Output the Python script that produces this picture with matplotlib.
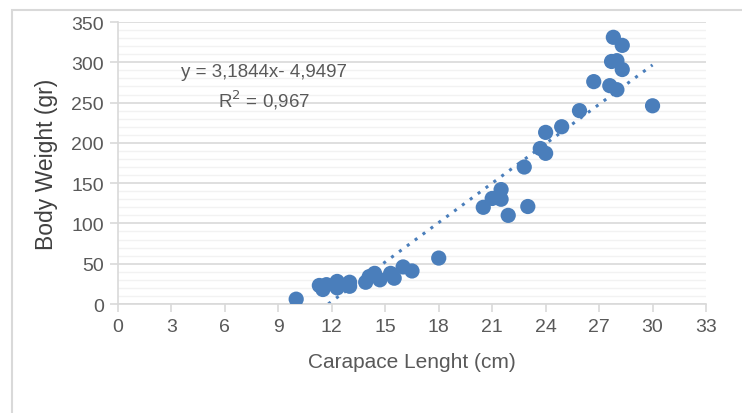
import matplotlib.pyplot as plt
from matplotlib.patches import Rectangle
from matplotlib.ticker import MultipleLocator

# ---------- DATA ----------
carapace_cm = [10.0, 11.3, 11.5, 11.7, 12.3, 12.3, 13.0, 13.0, 13.9, 14.1,
               14.4, 14.7, 15.3, 15.5, 16.0, 16.5, 18.0, 20.5, 21.0, 21.5,
               21.5, 21.9, 23.0, 22.8, 23.7, 24.0, 24.0, 24.9, 25.9, 26.7,
               27.6, 28.0, 27.7, 28.0, 28.3, 27.8, 28.3, 30.0]
weight_gr = [6, 23, 18, 24, 28, 20, 27, 22, 27, 34,
             38, 30, 38, 32, 46, 41, 57, 120, 131, 142,
             130, 110, 121, 170, 193, 187, 213, 220, 240, 276,
             271, 266, 301, 302, 291, 331, 321, 246]

# dotted trendline as drawn in the source (endpoints)
trend_x = [11.8, 30.0]
trend_slope = 16.3
trend_icpt = -192.3

eq_text = "y = 3,1844x- 4,9497"
r2_text = "R$^2$ = 0,967"

x_ticks = list(range(0, 34, 3))

# ---------- STYLE ----------
BLUE = "#4A7EBB"
GRID_MAJ = "#D9D9D9"
GRID_MIN = "#F2F2F2"
TXT = "#595959"

plt.rcParams["font.family"] = ["Liberation Sans", "DejaVu Sans"]

fig = plt.figure(figsize=(7.42, 4.14), dpi=100)
fig.patches.append(Rectangle((12 / 742, -0.1), 1.2, 1 - 11 / 414 + 0.1,
                             transform=fig.transFigure, fill=False,
                             edgecolor=GRID_MAJ, linewidth=1.5))

ax = fig.add_axes([118 / 742, 1 - 305 / 414, 588 / 742, 282 / 414])
ax.set_xlim(0, 33)
ax.set_ylim(0, 350)
ax.set_xticks(x_ticks)
ax.yaxis.set_major_locator(MultipleLocator(50))
ax.yaxis.set_minor_locator(MultipleLocator(10))

ax.grid(True, which="minor", axis="y", color=GRID_MIN, linewidth=1.0, zorder=0)
ax.grid(True, which="major", axis="y", color=GRID_MAJ, linewidth=1.2, zorder=0)
ax.set_axisbelow(True)

for side in ("top", "right"):
    ax.spines[side].set_visible(False)
for side in ("left", "bottom"):
    ax.spines[side].set_color(GRID_MAJ)
    ax.spines[side].set_linewidth(1.2)

ax.tick_params(axis="both", which="major", length=6, width=1.2, color=GRID_MAJ,
               labelcolor=TXT, labelsize=14, pad=4)
ax.tick_params(axis="y", which="minor", length=0)

ax.scatter(carapace_cm, weight_gr, s=120, color=BLUE, edgecolors="none", zorder=3)

ty = [trend_slope * v + trend_icpt for v in trend_x]
ax.plot(trend_x, ty, color=BLUE, linestyle=(0, (1, 2.2)), linewidth=2.2, zorder=2)

ax.text(8.2, 288, eq_text, ha="center", va="center", fontsize=13.5, color=TXT)
ax.text(8.2, 254, r2_text, ha="center", va="center", fontsize=13.5, color=TXT)

ax.set_xlabel("Carapace Lenght (cm)", fontsize=15, color=TXT, labelpad=12)
ax.set_ylabel("Body Weight (gr)", fontsize=16.5, color="#404040", labelpad=10)

fig.savefig("out.png", dpi=100)
